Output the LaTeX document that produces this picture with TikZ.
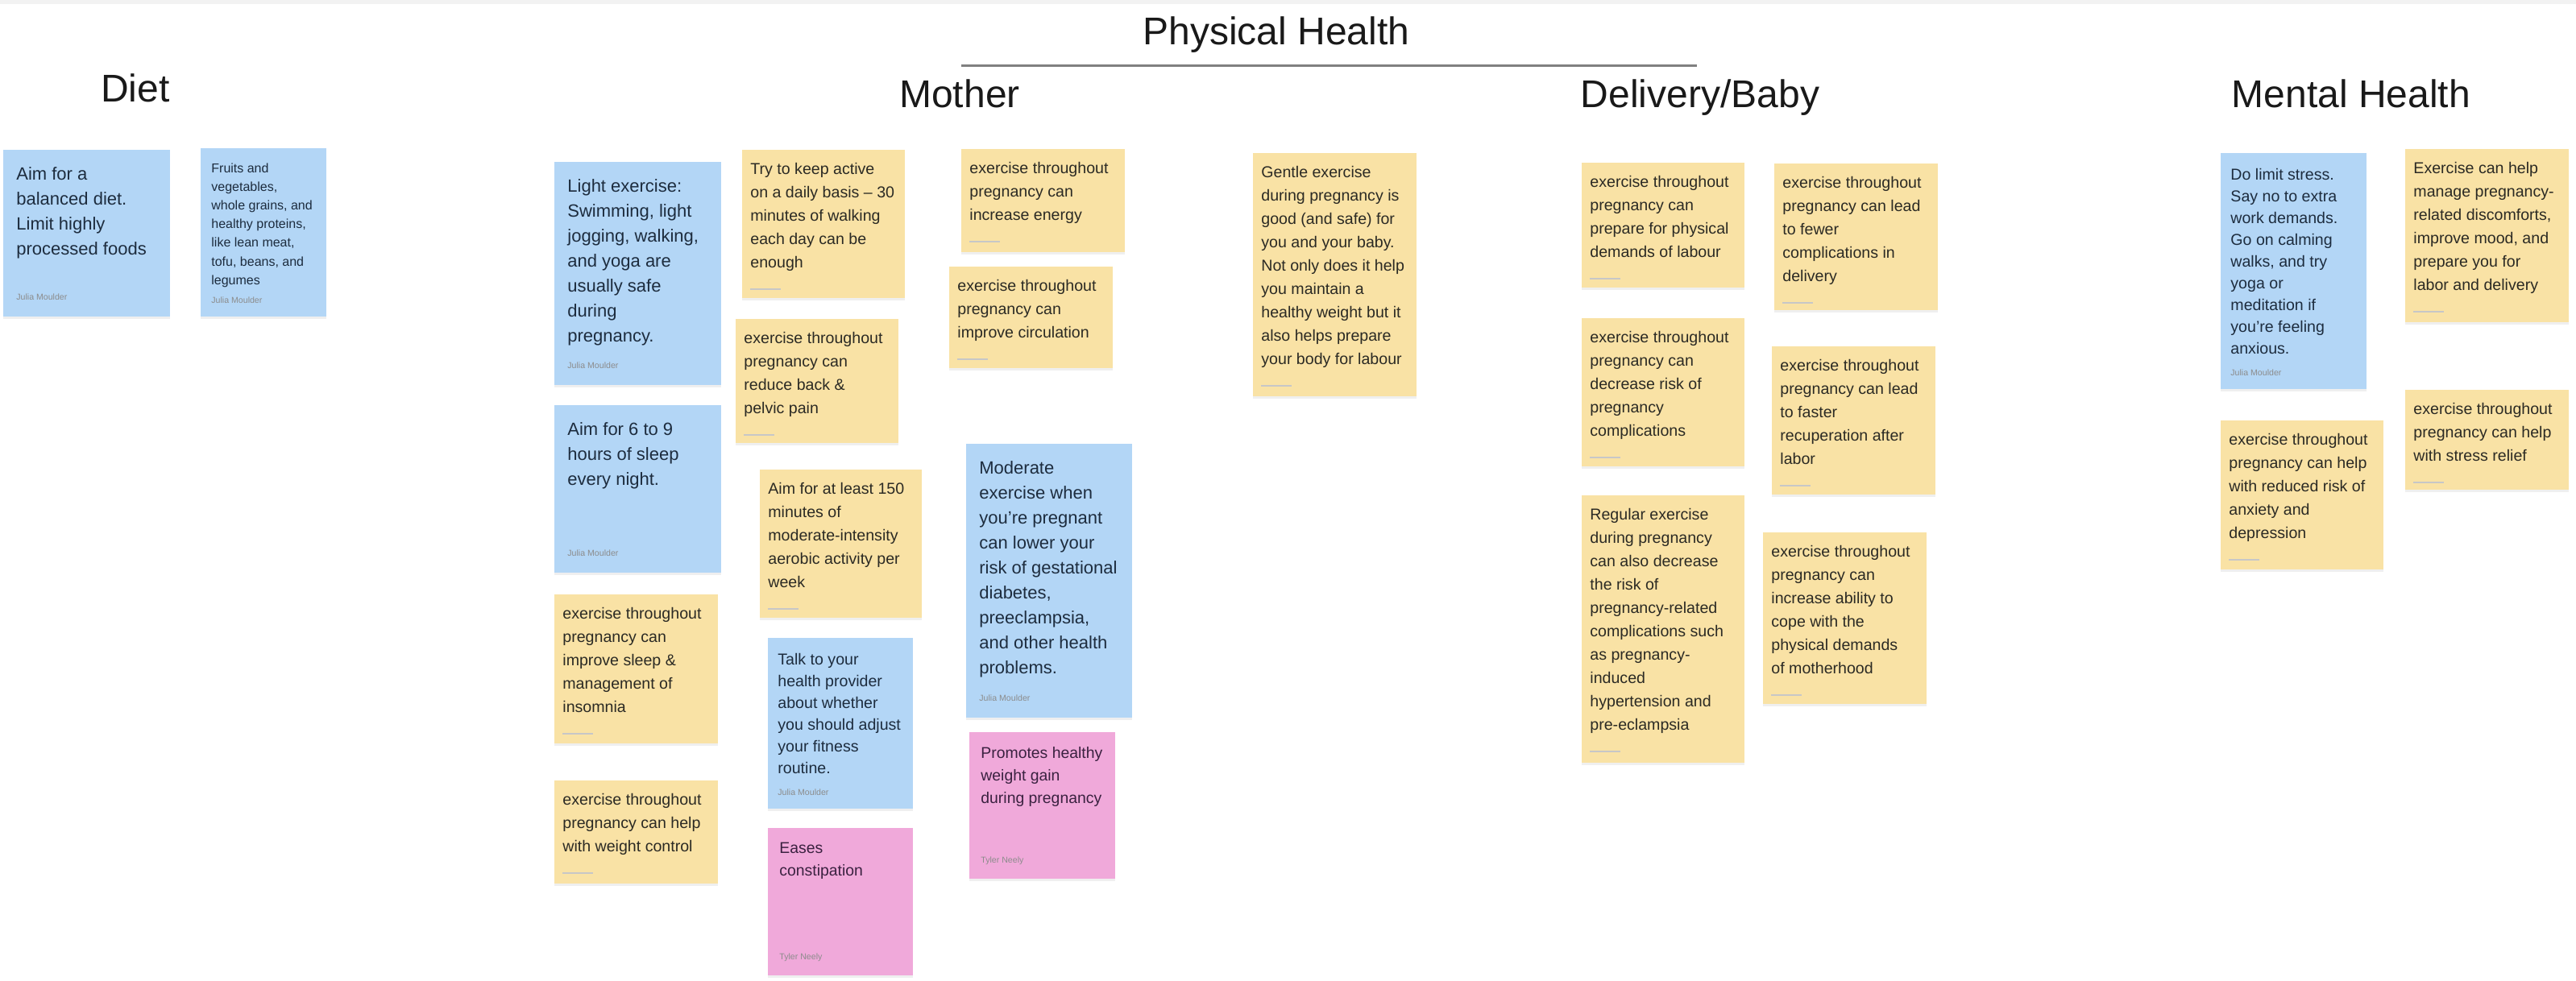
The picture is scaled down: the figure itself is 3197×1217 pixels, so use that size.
\documentclass[tikz,border=0pt]{standalone}
\usepackage{fontspec}
\setmainfont{Liberation Sans}
\usetikzlibrary{shadows}

\definecolor{stickyY}{HTML}{F9E2A5}
\definecolor{stickyB}{HTML}{B3D6F6}
\definecolor{stickyP}{HTML}{F0A9DA}
\definecolor{inkY}{HTML}{2B2A24}
\definecolor{inkB}{HTML}{1D2C3E}
\definecolor{inkP}{HTML}{3A2140}

\newcommand{\authorline}[1]{{\fontsize{5.3}{6}\selectfont\color{black!45}#1}}
\newcommand{\blurname}{\textcolor{black!22}{\rule[.3ex]{19pt}{1.2pt}}}
% one sticky note: name, style, x, y, width, height (px), text, author
\newcommand{\sticky}[8]{%
  \node[#2] (#1) at (#3,#4) {\parbox[t][\dimexpr #6pt/2-\pgfkeysvalueof{/pgf/inner ysep}*2\relax][t]%
    {\dimexpr #5pt/2-\pgfkeysvalueof{/pgf/inner xsep}*2\relax}{\raggedright #7\par\vfill\authorline{#8}}};}

\begin{document}
\begin{tikzpicture}[x=0.5pt,y=-0.5pt,
  note/.style={anchor=north west,rectangle,inner sep=0pt,
    drop shadow={shadow xshift=0pt,shadow yshift=-1.2pt,opacity=0.12}},
  ynote/.style={note,fill=stickyY,text=inkY,inner xsep=5pt,inner ysep=8pt,
    font=\fontsize{9.8}{14.5}\selectfont},
  bnote/.style={note,fill=stickyB,text=inkB,inner xsep=8pt,inner ysep=10.5pt,
    font=\fontsize{11}{15.5}\selectfont},
  bnotem/.style={bnote,inner xsep=6pt,inner ysep=9.5pt,font=\fontsize{9.8}{13.5}\selectfont},
  bnotes/.style={bnote,inner xsep=6.5pt,inner ysep=9pt,font=\fontsize{8}{11.6}\selectfont},
  pnote/.style={note,fill=stickyP,text=inkP,inner xsep=7pt,inner ysep=9pt,
    font=\fontsize{9.7}{14}\selectfont},
  head/.style={anchor=base,font=\fontsize{24}{28}\selectfont,text=black!90}]
  \fill[white] (0,0) rectangle (3197,1217);
  \fill[black!5] (0,0) rectangle (3197,5);
  \useasboundingbox (0,0) rectangle (3197,1217);

  % headings
  \node[head] (phys) at (1584,55) {Physical Health};
  \coordinate (ruleL) at (1193,81);
  \coordinate (ruleR) at (2106,81);
  \draw[black!50,line width=1.5pt] (ruleL) -- (ruleR);
  \node[head] (diet) at (168,126) {Diet};
  \node[head] (mother) at (1191,133) {Mother};
  \node[head] (delivery) at (2110,133) {Delivery/Baby};
  \node[head] (mental) at (2918,133) {Mental Health};

  % diet
  \sticky{dietBalance}{bnote}{4}{186}{207}{207}{Aim for a\\balanced diet.\\Limit highly\\processed foods}{Julia Moulder}
  \sticky{dietFoods}{bnotes}{249}{184}{156}{209}{Fruits and\\vegetables,\\whole grains, and\\healthy proteins,\\like lean meat,\\tofu, beans, and\\legumes}{Julia Moulder}

  % mother
  \sticky{lightEx}{bnote}{688}{201}{207}{277}{Light exercise:\\Swimming, light\\jogging, walking,\\and yoga are\\usually safe\\during\\pregnancy.}{Julia Moulder}
  \sticky{sleepHours}{bnote}{688}{503}{207}{208}{Aim for 6 to 9\\hours of sleep\\every night.}{Julia Moulder}
  \sticky{insomnia}{ynote}{688}{738}{203}{185}{exercise throughout\\pregnancy can\\improve sleep \&\\management of\\insomnia}{\blurname}
  \sticky{weightCtl}{ynote}{688}{969}{203}{128}{exercise throughout\\pregnancy can help\\with weight control}{\blurname}
  \sticky{dailyWalk}{ynote}{921}{186}{202}{184}{Try to keep active\\on a daily basis – 30\\minutes of walking\\each day can be\\enough}{\blurname}
  \sticky{backPain}{ynote}{913}{396}{202}{154}{exercise throughout\\pregnancy can\\reduce back \&\\pelvic pain}{\blurname}
  \sticky{aerobic}{ynote}{943}{583}{201}{184}{Aim for at least 150\\minutes of\\moderate-intensity\\aerobic activity per\\week}{\blurname}
  \sticky{provider}{bnotem}{953}{792}{180}{212}{Talk to your\\health provider\\about whether\\you should adjust\\your fitness\\routine.}{Julia Moulder}
  \sticky{constipation}{pnote}{953}{1028}{180}{183}{Eases\\constipation}{Tyler Neely}
  \sticky{energy}{ynote}{1193}{185}{203}{128}{exercise throughout\\pregnancy can\\increase energy}{\blurname}
  \sticky{circulation}{ynote}{1178}{331}{203}{126}{exercise throughout\\pregnancy can\\improve circulation}{\blurname}
  \sticky{gestational}{bnote}{1199}{551}{206}{340}{Moderate\\exercise when\\you're pregnant\\can lower your\\risk of gestational\\diabetes,\\preeclampsia,\\and other health\\problems.}{Julia Moulder}
  \sticky{weightGain}{pnote}{1203}{909}{181}{182}{Promotes healthy\\weight gain\\during pregnancy}{Tyler Neely}
  \sticky{gentle}{ynote}{1555}{190}{203}{302}{Gentle exercise\\during pregnancy is\\good (and safe) for\\you and your baby.\\Not only does it help\\you maintain a\\healthy weight but it\\also helps prepare\\your body for labour}{\blurname}

  % delivery / baby
  \sticky{labourPrep}{ynote}{1963}{202}{202}{155}{exercise throughout\\pregnancy can\\prepare for physical\\demands of labour}{\blurname}
  \sticky{riskComp}{ynote}{1963}{395}{202}{184}{exercise throughout\\pregnancy can\\decrease risk of\\pregnancy\\complications}{\blurname}
  \sticky{regular}{ynote}{1963}{615}{202}{332}{Regular exercise\\during pregnancy\\can also decrease\\the risk of\\pregnancy-related\\complications such\\as pregnancy-\\induced\\hypertension and\\pre-eclampsia}{\blurname}
  \sticky{fewerComp}{ynote}{2202}{203}{203}{182}{exercise throughout\\pregnancy can lead\\to fewer\\complications in\\delivery}{\blurname}
  \sticky{recovery}{ynote}{2199}{430}{203}{184}{exercise throughout\\pregnancy can lead\\to faster\\recuperation after\\labor}{\blurname}
  \sticky{motherhood}{ynote}{2188}{661}{203}{213}{exercise throughout\\pregnancy can\\increase ability to\\cope with the\\physical demands\\of motherhood}{\blurname}

  % mental health
  \sticky{limitStress}{bnotem}{2756}{190}{181}{293}{Do limit stress.\\Say no to extra\\work demands.\\Go on calming\\walks, and try\\yoga or\\meditation if\\you're feeling\\anxious.}{Julia Moulder}
  \sticky{anxiety}{ynote}{2756}{522}{202}{185}{exercise throughout\\pregnancy can help\\with reduced risk of\\anxiety and\\depression}{\blurname}
  \sticky{discomfort}{ynote}{2985}{185}{203}{215}{Exercise can help\\manage pregnancy-\\related discomforts,\\improve mood, and\\prepare you for\\labor and delivery}{\blurname}
  \sticky{stressRelief}{ynote}{2985}{484}{203}{124}{exercise throughout\\pregnancy can help\\with stress relief}{\blurname}
\end{tikzpicture}
\end{document}
